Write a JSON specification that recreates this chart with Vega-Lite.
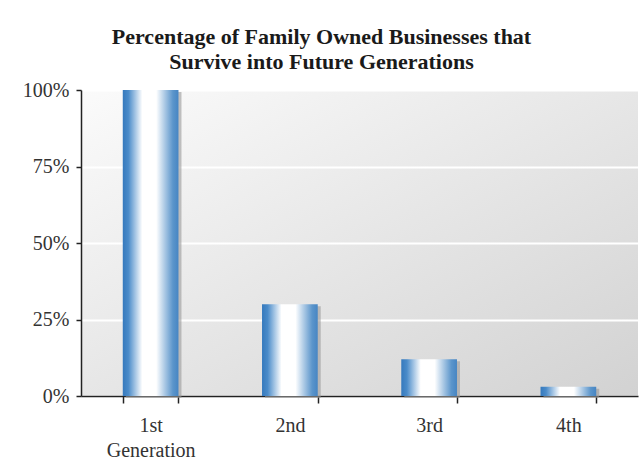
{
  "$schema": "https://vega.github.io/schema/vega-lite/v6.json",
  "autosize": "none",
  "width": 557,
  "height": 306,
  "padding": {"left": 81, "top": 90, "right": 5, "bottom": 67},
  "background": "white",
  "title": {
    "text": ["Percentage of Family Owned Businesses that", "Survive into Future Generations"],
    "font": "Liberation Serif",
    "fontSize": 22,
    "fontWeight": "bold",
    "color": "#1a1a1a",
    "lineHeight": 25,
    "anchor": "middle",
    "dx": -38,
    "offset": 6
  },
  "view": {
    "stroke": null,
    "fill": {
      "gradient": "linear",
      "x1": 0, "y1": 0, "x2": 1, "y2": 1,
      "stops": [
        {"offset": 0, "color": "#fbfbfb"},
        {"offset": 1, "color": "#d2d2d2"}
      ]
    }
  },
  "data": {
    "values": [
      {"generation": "1st Generation", "share": 1.0},
      {"generation": "2nd", "share": 0.30},
      {"generation": "3rd", "share": 0.12},
      {"generation": "4th", "share": 0.03}
    ]
  },
  "encoding": {
    "x": {
      "field": "generation",
      "type": "nominal",
      "sort": null,
      "scale": {"paddingInner": 0.6, "paddingOuter": 0.3},
      "axis": {
        "title": null,
        "labelAngle": 0,
        "labelExpr": "split(datum.label, ' ')",
        "labelFont": "Liberation Serif",
        "labelFontSize": 20,
        "labelColor": "#333333",
        "labelPadding": 12,
        "labelLineHeight": 25,
        "tickBand": "extent",
        "tickSize": 7,
        "tickColor": "#222222",
        "tickWidth": 1.5,
        "domainColor": "#222222",
        "domainWidth": 1.5,
        "grid": false
      }
    },
    "y": {
      "field": "share",
      "type": "quantitative",
      "scale": {"domain": [0, 1]},
      "axis": {
        "title": null,
        "values": [0, 0.25, 0.5, 0.75, 1],
        "format": ".0%",
        "labelFont": "Liberation Serif",
        "labelFontSize": 20,
        "labelColor": "#333333",
        "labelPadding": 7,
        "tickSize": 5,
        "tickColor": "#222222",
        "tickWidth": 1.5,
        "domainColor": "#222222",
        "domainWidth": 1.5,
        "grid": true,
        "gridColor": "#ffffff",
        "gridWidth": 2
      }
    }
  },
  "layer": [
    {
      "mark": {"type": "bar", "color": "#9a9a9a", "opacity": 0.6, "xOffset": 3, "yOffset": 2}
    },
    {
      "mark": {
        "type": "bar",
        "color": {
          "gradient": "linear",
          "x1": 0, "y1": 0, "x2": 1, "y2": 0,
          "stops": [
            {"offset": 0, "color": "#3579bd"},
            {"offset": 0.1, "color": "#4a8bc9"},
            {"offset": 0.35, "color": "#ffffff"},
            {"offset": 0.6, "color": "#ffffff"},
            {"offset": 0.9, "color": "#5b95cb"},
            {"offset": 1, "color": "#4685c3"}
          ]
        }
      }
    }
  ]
}
